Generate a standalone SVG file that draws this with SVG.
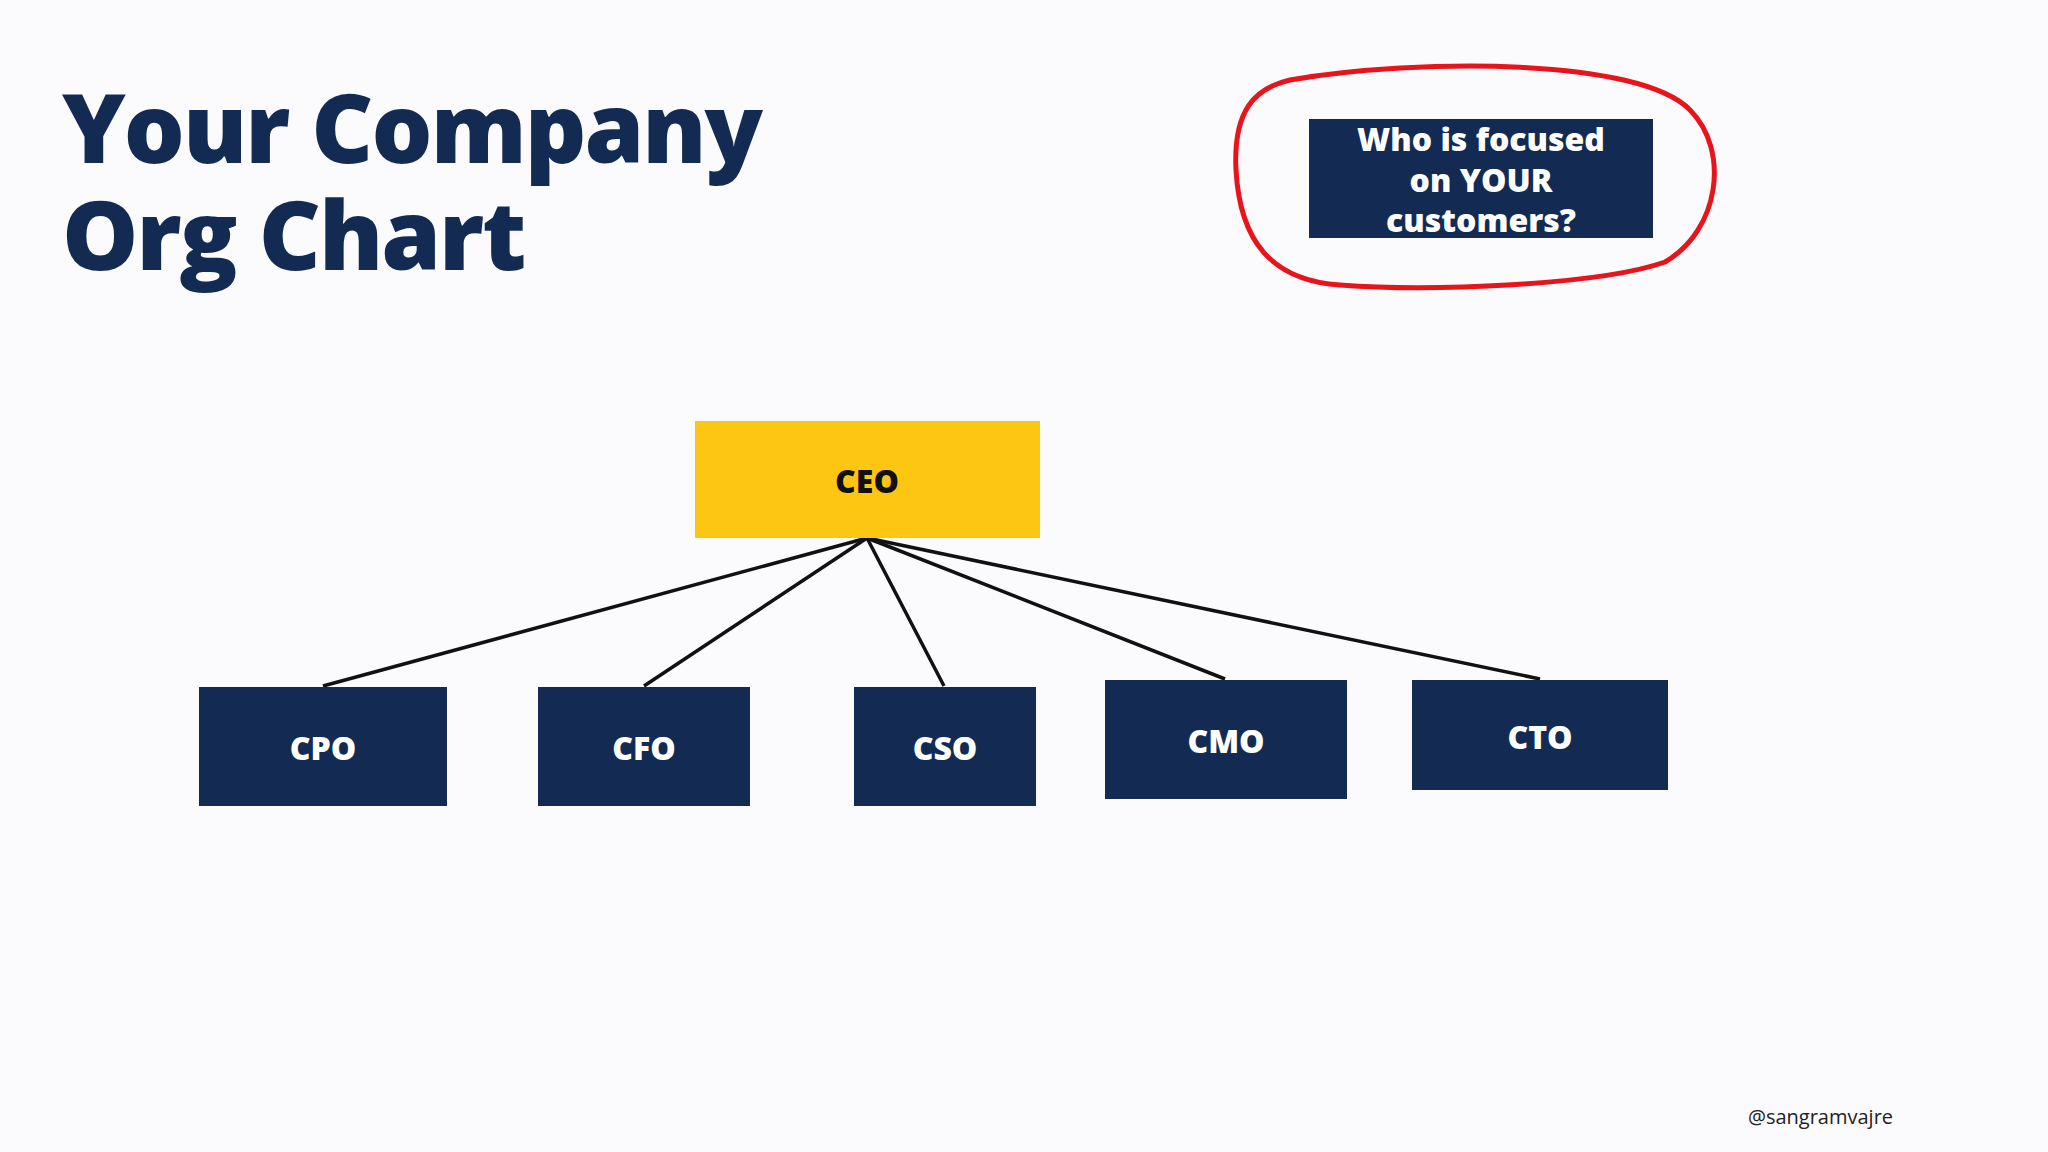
<svg xmlns="http://www.w3.org/2000/svg" width="2048" height="1152" viewBox="0 0 2048 1152">
<style>
.t{font-family:"Open Sans","Noto Sans",sans-serif;font-weight:800}
.box{fill:#132b52}
.lbl{font-family:"Open Sans","Noto Sans",sans-serif;font-weight:800;font-size:32px;fill:#fff;text-anchor:middle;dominant-baseline:central}
</style>
<rect width="2048" height="1152" fill="#fbfbfd"/>
<text class="t" x="62" y="163" font-size="96" fill="#132b52" letter-spacing="-2">Your Company</text>
<text class="t" x="62" y="270" font-size="96" fill="#132b52" letter-spacing="-2">Org Chart</text>
<g id="callout">
<path d="M1290 80 C1420 58 1640 58 1690 110 C1730 150 1720 230 1665 262 C1600 285 1430 292 1340 285 C1270 280 1240 240 1236 170 C1233 110 1255 88 1290 80 Z" fill="none" stroke="#e8141b" stroke-width="5"/>
<rect class="box" x="1309" y="119" width="344" height="119"/>
<text class="lbl" x="1481" y="138" font-size="33">Who is focused</text>
<text class="lbl" x="1481" y="179" font-size="33">on YOUR</text>
<text class="lbl" x="1481" y="219" font-size="33">customers?</text>
</g>
<g id="connectors" stroke="#111" stroke-width="3.5" fill="none">
<line x1="867" y1="538" x2="323" y2="686"/>
<line x1="867" y1="538" x2="644" y2="686"/>
<line x1="867" y1="538" x2="944" y2="686"/>
<line x1="867" y1="538" x2="1225" y2="679"/>
<line x1="867" y1="538" x2="1540" y2="679"/>
</g>
<g id="ceo"><rect x="695" y="421" width="345" height="117" fill="#fdc612"/><text class="lbl" x="867" y="480" style="fill:#111">CEO</text></g>
<g id="cpo"><rect class="box" x="199" y="687" width="248" height="119"/><text class="lbl" x="323" y="747">CPO</text></g>
<g id="cfo"><rect class="box" x="538" y="687" width="212" height="119"/><text class="lbl" x="644" y="747">CFO</text></g>
<g id="cso"><rect class="box" x="854" y="687" width="182" height="119"/><text class="lbl" x="945" y="747">CSO</text></g>
<g id="cmo"><rect class="box" x="1105" y="680" width="242" height="119"/><text class="lbl" x="1226" y="740">CMO</text></g>
<g id="cto"><rect class="box" x="1412" y="680" width="256" height="110"/><text class="lbl" x="1540" y="736">CTO</text></g>
<text x="1748" y="1124" font-family="Open Sans, sans-serif" font-size="20" fill="#222">@sangramvajre</text>
</svg>
